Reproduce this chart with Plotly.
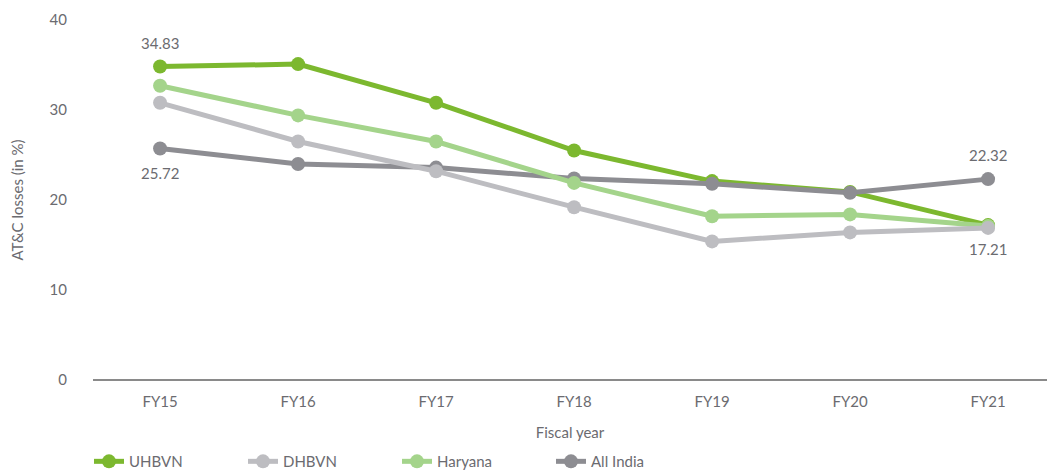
import plotly.graph_objects as go

years = ["FY15", "FY16", "FY17", "FY18", "FY19", "FY20", "FY21"]
uhbvn = [34.83, 35.1, 30.8, 25.5, 22.1, 20.9, 17.21]
dhbvn = [30.8, 26.5, 23.2, 19.2, 15.4, 16.4, 16.9]
haryana = [32.7, 29.4, 26.5, 21.9, 18.2, 18.4, 17.1]
all_india = [25.72, 24.0, 23.6, 22.4, 21.8, 20.8, 22.32]

series = [
    ("UHBVN", uhbvn, "#7cb82f"),
    ("DHBVN", dhbvn, "#bdbdc1"),
    ("Haryana", haryana, "#a4d48b"),
    ("All India", all_india, "#8d8d92"),
]
draw_order = [0, 3, 2, 1]

fig = go.Figure()
for i in draw_order:
    name, vals, col = series[i]
    fig.add_trace(go.Scatter(
        x=years, y=vals, name=name, mode="lines+markers",
        line=dict(color=col, width=5),
        marker=dict(color=col, size=14),
        legendrank=i + 1,
    ))

text_col = "#6b6b70"
ann = [
    (years[0], uhbvn[0], "34.83", 24),
    (years[0], all_india[0], "25.72", -24),
    (years[6], all_india[6], "22.32", 24),
    (years[6], uhbvn[6], "17.21", -24),
]
for x, y, t, ys in ann:
    fig.add_annotation(x=x, y=y, text=t, showarrow=False, yshift=ys,
                       font=dict(size=15, color=text_col, family="Lato"))

fig.update_layout(
    width=1047, height=471,
    margin=dict(l=93, r=0, t=20, b=91),
    paper_bgcolor="white", plot_bgcolor="white",
    font=dict(family="Lato", size=15, color=text_col),
    showlegend=True,
    legend=dict(orientation="h", x=0.085, xref="container", y=0.02,
                yref="container", yanchor="middle", xanchor="left",
                font=dict(size=15, color=text_col), itemwidth=30,
                entrywidth=109, entrywidthmode="pixels",
                traceorder="normal"),
    xaxis=dict(range=[-0.486, 6.427], showgrid=False, zeroline=False,
               showline=False, ticks="outside", ticklen=8, tickcolor="white",
               tickfont=dict(size=15, color=text_col),
               title=dict(text="Fiscal year", font=dict(size=15, color=text_col), standoff=18)),
    yaxis=dict(range=[0, 40], tickvals=[0, 10, 20, 30, 40], showgrid=False,
               zeroline=True, zerolinecolor="#8a8a8a", zerolinewidth=2,
               showline=False, ticks="outside", ticklen=22, tickcolor="white",
               tickfont=dict(size=15, color=text_col),
               title=dict(text="AT&C losses (in %)", font=dict(size=15, color=text_col), standoff=22)),
)

fig.write_html("out.html")
